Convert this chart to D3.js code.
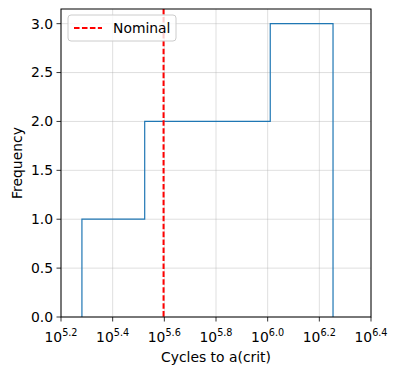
<!DOCTYPE html>
<html>
<head>
<meta charset="utf-8">
<script src="https://cdn.jsdelivr.net/npm/d3@7"></script>
<style>
  body { margin: 0; background: #fff; }
  svg { font-family: "DejaVu Sans", sans-serif; }
</style>
</head>
<body>
<div id="chart"></div>
<script>
// histogram bins (log10 of cycles) and counts
const binEdgesLog = [5.281, 5.524, 5.767, 6.010, 6.253];
const counts = [1, 2, 2, 3];
const nominalLog = 5.597;
const xTickExps = ["5.2", "5.4", "5.6", "5.8", "6.0", "6.2", "6.4"];
const yTicks = [0, 0.5, 1.0, 1.5, 2.0, 2.5, 3.0];

const width = 398, height = 375;
const margin = {left: 61, right: 27, top: 9, bottom: 58};
const iw = width - margin.left - margin.right;
const ih = height - margin.top - margin.bottom;

const svg = d3.select("#chart").append("svg")
  .attr("width", width).attr("height", height);

const g = svg.append("g").attr("transform", `translate(${margin.left},${margin.top})`);

const x = d3.scaleLog().domain([Math.pow(10, 5.2), Math.pow(10, 6.4)]).range([0, iw]);
const y = d3.scaleLinear().domain([0, 3.15]).range([ih, 0]);

// Grid
g.append("g").selectAll("line").data(xTickExps).enter().append("line")
  .attr("x1", d => x(Math.pow(10, +d))).attr("x2", d => x(Math.pow(10, +d)))
  .attr("y1", 0).attr("y2", ih)
  .attr("stroke", "#b0b0b0").attr("stroke-opacity", 0.5).attr("stroke-width", 0.8);
g.append("g").selectAll("line").data(yTicks).enter().append("line")
  .attr("x1", 0).attr("x2", iw)
  .attr("y1", d => y(d)).attr("y2", d => y(d))
  .attr("stroke", "#b0b0b0").attr("stroke-opacity", 0.5).attr("stroke-width", 0.8);

// Step histogram outline
const pts = [[binEdgesLog[0], 0]];
counts.forEach((c, i) => {
  pts.push([binEdgesLog[i], c]);
  pts.push([binEdgesLog[i + 1], c]);
});
pts.push([binEdgesLog[binEdgesLog.length - 1], 0]);
const line = d3.line().x(d => x(Math.pow(10, d[0]))).y(d => y(d[1]));
g.append("path").datum(pts).attr("d", line)
  .attr("fill", "none").attr("stroke", "#1f77b4").attr("stroke-width", 1.2);

// Nominal line
g.append("line")
  .attr("x1", x(Math.pow(10, nominalLog))).attr("x2", x(Math.pow(10, nominalLog)))
  .attr("y1", 0).attr("y2", ih)
  .attr("stroke", "#ff0000").attr("stroke-width", 2).attr("stroke-dasharray", "5.55,2.4");

// Frame
g.append("rect").attr("width", iw).attr("height", ih)
  .attr("fill", "none").attr("stroke", "#000").attr("stroke-width", 1);

// X axis ticks with superscript labels
const xt = g.append("g").attr("transform", `translate(0,${ih})`);
xt.selectAll("line").data(xTickExps).enter().append("line")
  .attr("x1", d => x(Math.pow(10, +d))).attr("x2", d => x(Math.pow(10, +d)))
  .attr("y1", 0).attr("y2", 4.5).attr("stroke", "#000").attr("stroke-width", 0.8);
const xl = xt.selectAll("text").data(xTickExps).enter().append("text")
  .attr("x", d => x(Math.pow(10, +d))).attr("y", 25)
  .attr("text-anchor", "middle").attr("font-size", "13.9px").attr("fill", "#000");
xl.append("tspan").text("10");
xl.append("tspan").attr("dy", -6).attr("font-size", "9.7px").text(d => d);

// Y axis ticks
const yt = g.append("g");
yt.selectAll("line").data(yTicks).enter().append("line")
  .attr("x1", -4.5).attr("x2", 0)
  .attr("y1", d => y(d)).attr("y2", d => y(d)).attr("stroke", "#000").attr("stroke-width", 0.8);
yt.selectAll("text").data(yTicks).enter().append("text")
  .attr("x", -8).attr("y", d => y(d)).attr("dy", "0.35em")
  .attr("text-anchor", "end").attr("font-size", "13.9px").text(d => d.toFixed(1));

// Axis labels
svg.append("text").attr("x", margin.left + iw / 2).attr("y", 362)
  .attr("text-anchor", "middle").attr("font-size", "13.9px").text("Cycles to a(crit)");
svg.append("text").attr("transform", `translate(22,${margin.top + ih / 2}) rotate(-90)`)
  .attr("text-anchor", "middle").attr("font-size", "13.9px").text("Frequency");

// Legend
const lg = g.append("g").attr("transform", "translate(7,6)");
lg.append("rect").attr("width", 108).attr("height", 26).attr("rx", 3)
  .attr("fill", "#fff").attr("fill-opacity", 0.8)
  .attr("stroke", "#cccccc").attr("stroke-width", 1);
lg.append("line").attr("x1", 6).attr("x2", 34).attr("y1", 13).attr("y2", 13)
  .attr("stroke", "#ff0000").attr("stroke-width", 2).attr("stroke-dasharray", "5.55,2.4");
lg.append("text").attr("x", 45).attr("y", 13).attr("dy", "0.35em")
  .attr("font-size", "13.9px").text("Nominal");
</script>
</body>
</html>
